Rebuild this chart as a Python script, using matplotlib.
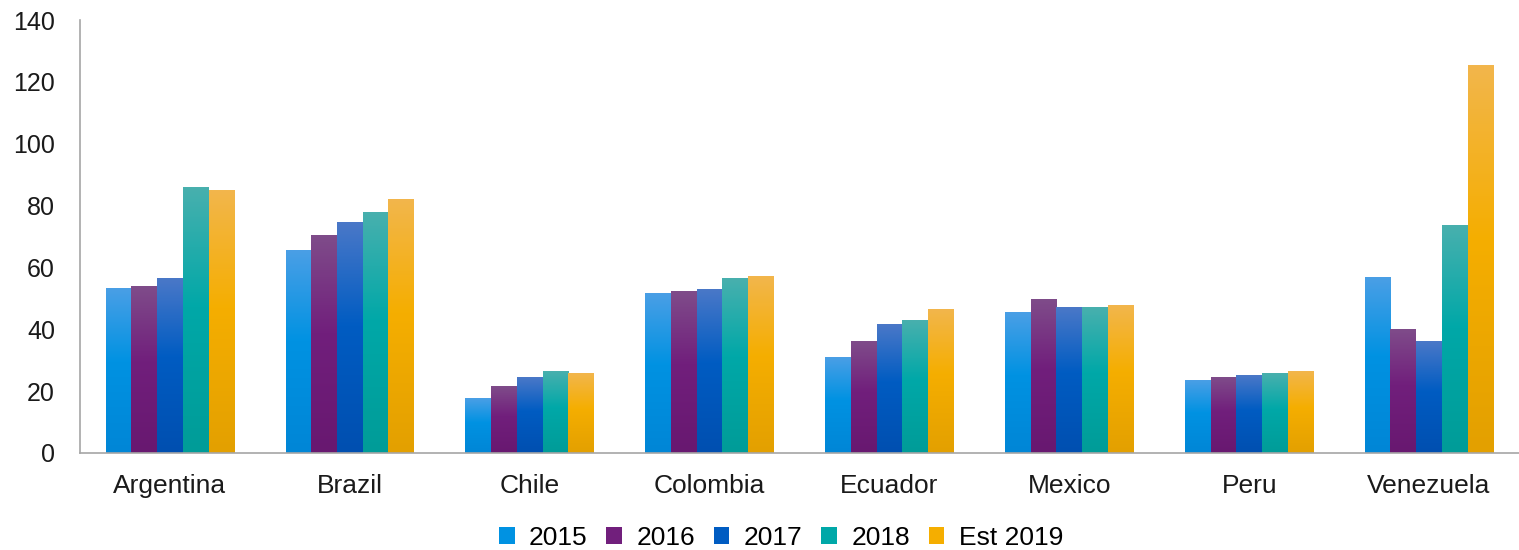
import numpy as np
import matplotlib
matplotlib.use('Agg')
import matplotlib.pyplot as plt
from matplotlib.colors import LinearSegmentedColormap
from matplotlib.patches import Patch

plt.rcParams['font.family'] = ['Liberation Sans', 'DejaVu Sans']

countries = ["Argentina", "Brazil", "Chile", "Colombia", "Ecuador", "Mexico", "Peru", "Venezuela"]
series_names = ["2015", "2016", "2017", "2018", "Est 2019"]

v2015 = [53.3, 65.6, 17.5, 51.5, 31.0, 45.5, 23.5, 56.9]
v2016 = [53.7, 70.2, 21.5, 52.2, 36.0, 49.7, 24.3, 39.8]
v2017 = [56.3, 74.4, 24.5, 53.0, 41.5, 47.2, 25.2, 35.9]
v2018 = [85.7, 77.6, 26.2, 56.3, 43.0, 47.2, 25.8, 73.7]
v2019 = [85.0, 82.1, 25.8, 57.0, 46.5, 47.8, 26.5, 125.4]
series = [v2015, v2016, v2017, v2018, v2019]

# (bottom, middle, top) colours for the vertical gradient of each series
grads = [
    ('#0086d6', '#0092e2', '#4a9fe6'),
    ('#681870', '#711f7c', '#7f4c8a'),
    ('#004fb0', '#005cc2', '#4a78c8'),
    ('#009c98', '#00a8a8', '#48b0ae'),
    ('#e3a000', '#f5ae00', '#f2b64c'),
]

fig = plt.figure(figsize=(15.19, 5.5), dpi=100)
ax = fig.add_axes([80 / 1519, 1 - 453 / 550, 1 - 80 / 1519, (453 - 20) / 550])

x = np.arange(len(countries))
width = 0.143
n = len(series)
grad_img = np.linspace(0, 1, 256).reshape(-1, 1)

for i, vals in enumerate(series):
    offs = (i - (n - 1) / 2) * width
    bars = ax.bar(x + offs, vals, width=width, color='none', edgecolor='none', zorder=2)
    lo, mid, hi = grads[i]
    cmap = LinearSegmentedColormap.from_list('g%d' % i, [(0, lo), (0.55, mid), (1, hi)])
    for b in bars:
        x0, y0 = b.get_x(), b.get_y()
        ax.imshow(grad_img, extent=[x0, x0 + b.get_width(), y0, y0 + b.get_height()],
                  origin='lower', aspect='auto', cmap=cmap, zorder=2, interpolation='bilinear')

ax.set_xlim(-0.5, len(countries) - 0.5)
ax.set_ylim(0, 140)
ax.set_yticks(range(0, 141, 20))
ax.set_xticks(x)
ax.set_xticklabels(countries)

for s in ['top', 'right']:
    ax.spines[s].set_visible(False)
for s in ['left', 'bottom']:
    ax.spines[s].set_color('#a6a6a6')
    ax.spines[s].set_linewidth(1.2)
ax.tick_params(axis='both', length=0, colors='#1a1a1a')
ax.tick_params(axis='y', pad=18, labelsize=18)
ax.tick_params(axis='x', pad=15, labelsize=19)

handles = [Patch(facecolor=g[1], edgecolor='none') for g in grads]
fig.legend(handles, series_names, loc='center', bbox_to_anchor=(781 / 1519, 1 - 538 / 550),
           ncol=5, frameon=False, fontsize=19, handlelength=0.6, handleheight=0.6,
           handletextpad=0.55, columnspacing=0.7)

fig.savefig('out.png', dpi=100)
